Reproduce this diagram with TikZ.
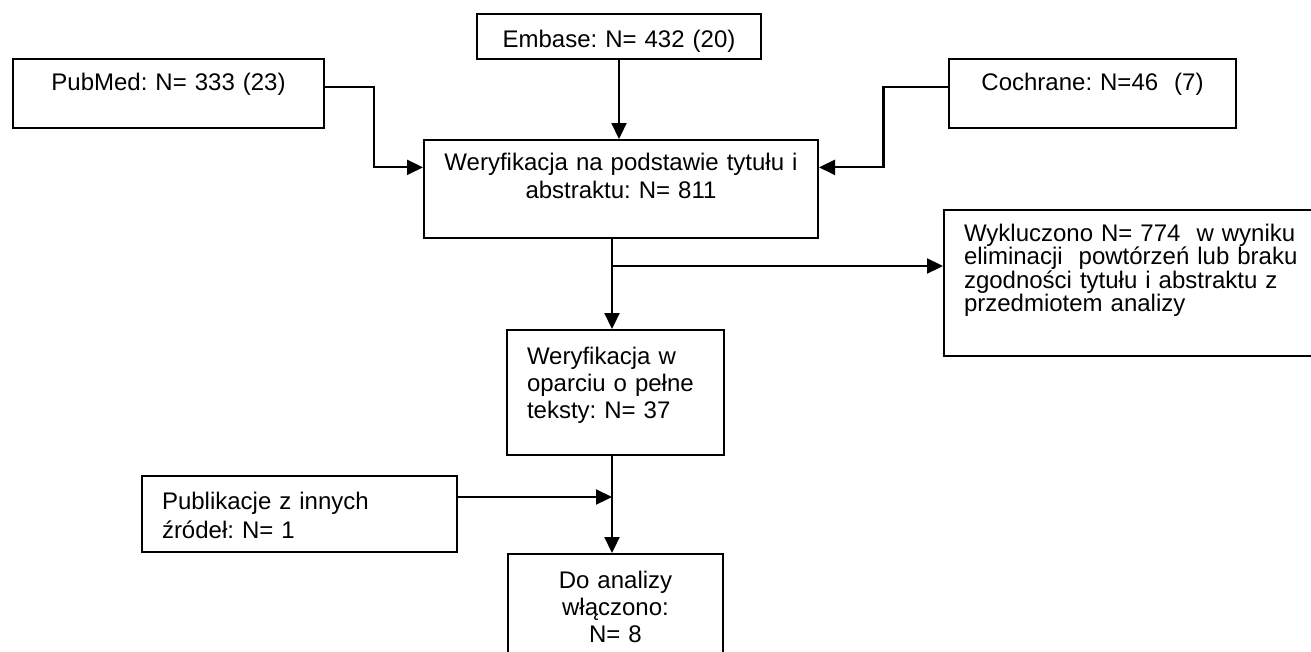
\documentclass[tikz,border=0pt]{standalone}
\usepackage{fontspec}
\setmainfont{Liberation Sans}
\frenchspacing
\usetikzlibrary{arrows.meta,calc}
\begin{document}
\begin{tikzpicture}[x=1pt,y=-1pt,
  font=\fontsize{24}{28}\selectfont,
  box/.style={draw,line width=2pt,anchor=north west,inner xsep=20pt,inner ysep=0pt},
  link/.style={line width=2.2pt,-{Triangle[length=16pt,width=15pt]}}]
\path[use as bounding box,clip] (0,0) rectangle (1311,651);
% zrodla
\node[box,text width=244pt,align=center,text height=33pt,text depth=12pt] (embase) at (476,13) {Embase: N= 432 (20)};
\node[box,text width=271pt,align=center,text height=31pt,text depth=38pt] (pubmed) at (12,58) {PubMed: N= 333 (23)};
\node[box,text width=247pt,align=center,text height=31pt,text depth=38pt] (cochrane) at (948,58) {Cochrane: N=46\ \ (7)};
% etapy
\node[box,text width=354pt,align=center,text height=30pt,text depth=68pt,font=\fontsize{24}{28.5}\selectfont] (wer1) at (423,139) {Weryfikacja na podstawie tytułu i\\abstraktu: N= 811};
\node[box,text width=380pt,align=left,text height=31pt,text depth=115pt,font=\fontsize{24}{23.5}\selectfont] (wyk) at (943,209) {Wykluczono N= 774\ \ w wyniku\\eliminacji\ \ powtórzeń lub braku\\zgodności tytułu i abstraktu z\\przedmiotem analizy};
\node[box,text width=177pt,align=left,text height=34pt,text depth=91pt,font=\fontsize{24}{27}\selectfont] (wer2) at (506,329) {Weryfikacja w\\oparciu o pełne\\teksty: N= 37};
\node[box,text width=275pt,align=left,text height=33pt,text depth=43pt,font=\fontsize{24}{29}\selectfont] (pub) at (141,475) {Publikacje z innych\\źródeł: N= 1};
\node[box,text width=175pt,align=center,text height=34pt,text depth=100pt,font=\fontsize{24}{27}\selectfont] (doan) at (507,553) {Do analizy\\włączono:\\N= 8};
\coordinate (split) at (612,266);
\coordinate (join) at (612,497);
% strzalki
\draw[link] (embase.south) -- (embase.south |- wer1.north);
\draw[link] (pubmed.mid east) -| ($(pubmed.mid east)!.5!(wer1.mid west)$) |- (wer1.mid west);
\draw[link] (cochrane.mid west) -| ($(cochrane.mid west)!.5!(wer1.mid east)$) |- (wer1.mid east);
\draw[link] (split |- wer1.south) -- (split |- wer2.north);
\draw[link] (split) -- (split -| wyk.west);
\draw[link] (join |- wer2.south) -- (join |- doan.north);
\draw[link] (pub.east |- join) -- (join);
\end{tikzpicture}
\end{document}
